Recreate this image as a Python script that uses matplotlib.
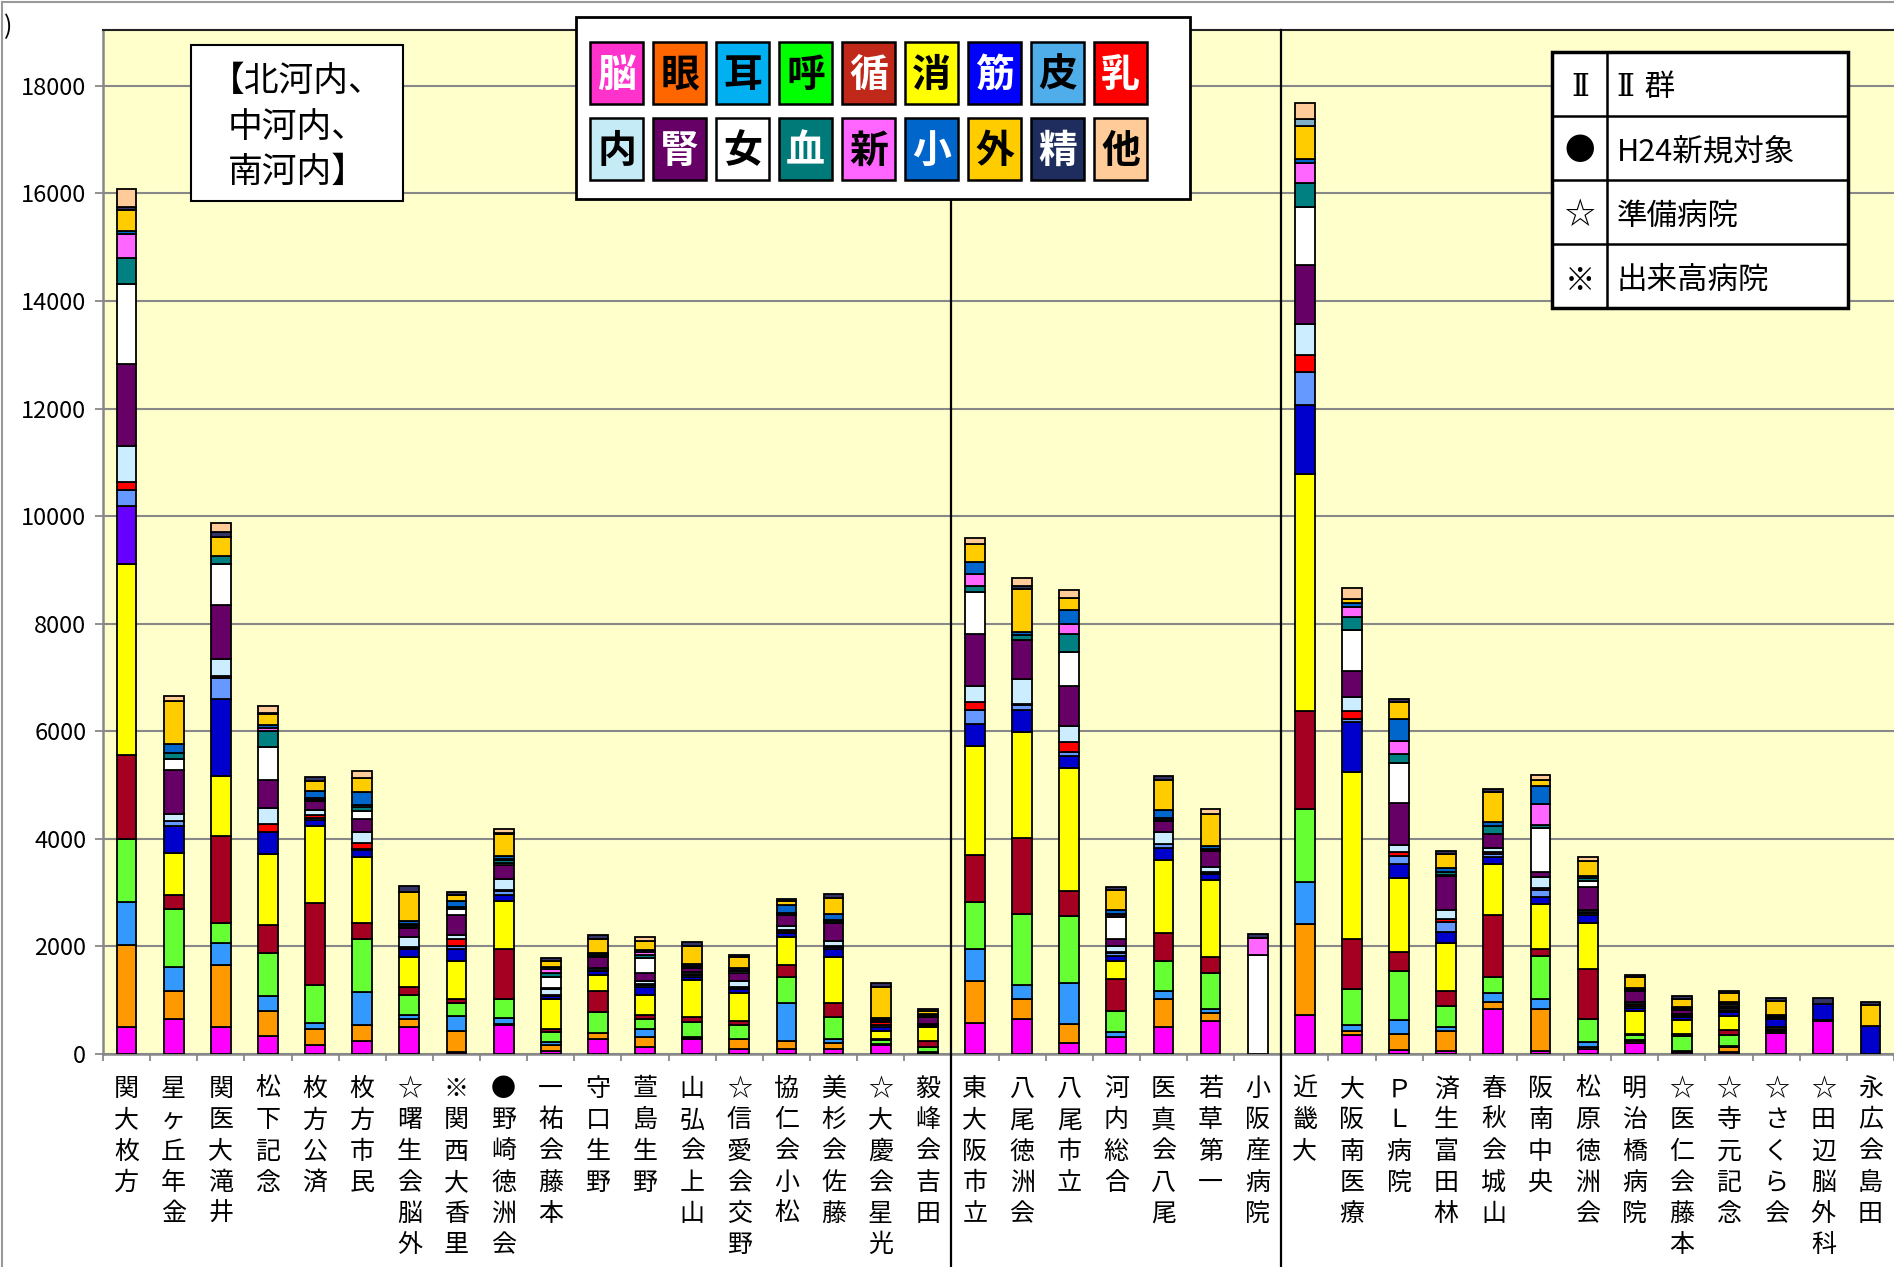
import matplotlib
matplotlib.use("Agg")
import matplotlib.pyplot as plt
from matplotlib.patches import Rectangle
from matplotlib.lines import Line2D
from matplotlib.transforms import blended_transform_factory

plt.rcParams['font.family'] = ['Noto Sans CJK JP', 'DejaVu Sans']

hospitals = ["関大枚方", "星ヶ丘年金", "関医大滝井", "松下記念", "枚方公済", "枚方市民",
             "☆曙生会脳外", "※関西大香里", "●野崎徳洲会", "一祐会藤本", "守口生野",
             "萱島生野", "山弘会上山", "☆信愛会交野", "協仁会小松", "美杉会佐藤",
             "☆大慶会星光", "毅峰会吉田", "東大阪市立", "八尾徳洲会", "八尾市立",
             "河内総合", "医真会八尾", "若草第一", "小阪産病院", "近畿大", "大阪南医療",
             "ＰＬ病院", "済生富田林", "春秋会城山", "阪南中央", "松原徳洲会", "明治橋病院",
             "☆医仁会藤本", "☆寺元記念", "☆さくら会", "☆田辺脳外科", "永広会島田"]

categories = ["脳", "眼", "耳", "呼", "循", "消", "筋", "皮", "乳",
              "内", "腎", "女", "血", "新", "小", "外", "精", "他"]

# values per category, one per hospital
nou = [500, 650, 500, 330, 175, 250, 500, 30, 530, 60, 280, 130, 280, 95, 95, 95, 160, 20,
       580, 645, 205, 320, 495, 610, 0, 725, 345, 80, 60, 840, 50, 95, 205, 30, 40, 390, 605, 0]
me = [1525, 525, 1160, 475, 290, 295, 150, 405, 30, 115, 110, 185, 15, 185, 140, 110, 20, 10,
      770, 370, 345, 0, 520, 155, 0, 1695, 80, 300, 370, 135, 785, 40, 30, 20, 90, 20, 0, 0]
mimi = [810, 450, 400, 265, 110, 600, 80, 265, 110, 45, 0, 150, 15, 0, 715, 75, 0, 0,
        600, 275, 770, 80, 150, 65, 0, 785, 115, 255, 80, 155, 190, 80, 20, 0, 20, 20, 0, 0]
kokyu = [1155, 1070, 370, 805, 700, 990, 360, 250, 355, 185, 400, 185, 290, 265, 475, 410, 80, 100,
         885, 1315, 1255, 400, 560, 680, 0, 1350, 670, 900, 390, 300, 805, 440, 100, 290, 195, 20, 0, 0]
junkan = [1565, 265, 1630, 525, 1530, 310, 165, 80, 935, 60, 375, 70, 95, 75, 225, 260, 20, 105,
          860, 1420, 455, 600, 530, 300, 0, 1820, 920, 370, 270, 1155, 120, 920, 20, 30, 105, 20, 0, 0]
shoka = [3555, 775, 1115, 1320, 1440, 1215, 540, 695, 880, 560, 300, 370, 685, 515, 520, 850, 140, 260,
         2030, 1955, 2290, 325, 1360, 1430, 0, 4405, 3115, 1360, 885, 950, 840, 855, 420, 270, 265, 40, 20, 0]
kin = [1080, 510, 1420, 405, 110, 125, 155, 230, 125, 50, 75, 155, 60, 75, 80, 145, 90, 30,
       405, 420, 215, 95, 220, 100, 0, 1280, 920, 275, 215, 125, 125, 155, 60, 40, 60, 140, 310, 515]
hifu = [300, 80, 390, 0, 40, 35, 20, 60, 60, 20, 15, 45, 30, 25, 25, 40, 20, 20,
        260, 95, 75, 50, 70, 30, 0, 630, 55, 150, 185, 60, 135, 30, 40, 20, 30, 20, 0, 0]
nyu = [140, 0, 45, 155, 50, 100, 20, 125, 30, 10, 15, 15, 20, 20, 25, 20, 60, 0,
       155, 20, 200, 20, 0, 20, 0, 300, 150, 60, 60, 30, 40, 20, 40, 20, 20, 0, 0, 0]
nai = [680, 140, 310, 300, 95, 205, 180, 80, 190, 105, 30, 45, 40, 100, 85, 95, 15, 20,
       295, 465, 285, 120, 225, 80, 0, 590, 275, 135, 155, 75, 195, 45, 30, 30, 30, 20, 0, 0]
jin = [1525, 820, 1000, 520, 155, 240, 180, 360, 260, 20, 200, 155, 60, 155, 205, 330, 20, 125,
       970, 725, 750, 130, 195, 310, 0, 1095, 475, 785, 640, 265, 105, 420, 210, 60, 40, 20, 0, 0]
jo = [1475, 200, 775, 600, 20, 160, 20, 118, 40, 195, 20, 280, 20, 30, 20, 20, 15, 20,
      775, 0, 625, 400, 20, 20, 1840, 1070, 770, 750, 20, 0, 820, 120, 20, 20, 30, 20, 0, 0]
ketsu = [485, 110, 136, 300, 30, 70, 30, 40, 70, 90, 20, 60, 20, 30, 20, 50, 15, 20,
         110, 80, 340, 20, 40, 20, 0, 450, 230, 150, 55, 150, 40, 60, 20, 20, 20, 0, 0, 0]
shin = [450, 0, 0, 70, 20, 35, 20, 0, 20, 60, 0, 60, 0, 0, 0, 0, 0, 0,
        225, 0, 185, 50, 0, 0, 320, 370, 195, 255, 0, 0, 400, 0, 0, 0, 0, 0, 0, 0]
sho = [60, 175, 0, 40, 120, 245, 60, 100, 45, 45, 30, 30, 40, 30, 140, 95, 10, 20,
       225, 70, 260, 60, 160, 40, 0, 75, 70, 400, 80, 80, 335, 30, 20, 20, 30, 0, 0, 0]
geka = [390, 785, 359, 215, 185, 260, 540, 112, 415, 100, 265, 160, 340, 200, 80, 310, 580, 45,
        335, 790, 215, 380, 555, 595, 0, 620, 80, 325, 245, 555, 110, 270, 190, 150, 155, 260, 0, 400]
sei = [60, 0, 93, 20, 80, 0, 95, 56, 20, 65, 80, 0, 65, 50, 30, 75, 75, 50,
       0, 65, 0, 50, 75, 0, 65, 120, 0, 60, 60, 45, 0, 0, 50, 50, 50, 44, 99, 45]
ta = [320, 110, 163, 125, 0, 125, 0, 0, 75, 0, 0, 80, 0, 0, 0, 0, 0, 0,
      115, 140, 160, 0, 0, 105, 0, 300, 205, 0, 0, 0, 95, 80, 0, 0, 0, 0, 0, 0]

series = [nou, me, mimi, kokyu, junkan, shoka, kin, hifu, nyu,
          nai, jin, jo, ketsu, shin, sho, geka, sei, ta]

bar_colors = ["#FF00FF", "#FF9900", "#3399FF", "#66FF33", "#A50021", "#FFFF00",
              "#0000CC", "#6699FF", "#FF0000", "#CCECFF", "#660066", "#FFFFFF",
              "#008080", "#FF66FF", "#0066CC", "#FFCC00", "#333366", "#FFCC99"]
key_colors = ["#FF33CC", "#FF6600", "#00B0F0", "#00FF00", "#C0281A", "#FFFF00",
              "#0000FF", "#4FADEA", "#FF0000", "#C5EBF7", "#660066", "#FFFFFF",
              "#007A78", "#FF66FF", "#0066CC", "#FFCC00", "#1F2D5E", "#FFCC99"]
key_text = ["white", "black", "black", "black", "white", "black", "white", "black", "white",
            "black", "white", "black", "white", "black", "white", "black", "white", "black"]

W, H = 1894, 1267


def fx(px):
    return px / W


def fy(py):
    return 1 - py / H


fig = plt.figure(figsize=(W / 100, H / 100), dpi=100)
ax = fig.add_axes([fx(103), fy(1054), fx(W - 103), (1054 - 30) / H])
ax.set_facecolor("#FFFFCC")

n = len(hospitals)
x = list(range(n))
bottom = [0] * n
for ci, vals in enumerate(series):
    cols = [bar_colors[ci]] * n
    if categories[ci] == "筋":
        cols[0] = "#6600FF"
    if categories[ci] == "精":
        cols[25] = "#80B0C8"
    xs = [i for i in x if vals[i] > 0]
    ax.bar(xs, [vals[i] for i in xs], bottom=[bottom[i] for i in xs], width=0.42,
           color=[cols[i] for i in xs], edgecolor="black", linewidth=1.3, zorder=3)
    bottom = [bottom[i] + vals[i] for i in x]

ax.set_xlim(-0.48, 37.47)
ax.set_ylim(0, 19040)
ax.set_yticks(range(0, 18001, 2000))
ax.set_yticklabels([str(v) for v in range(0, 18001, 2000)], fontsize=17)
ax.grid(axis="y", color="#888888", linewidth=1.5, zorder=1)
ax.tick_params(axis="y", direction="out", length=6, width=1.3, color="#888888", pad=6)

ax.set_xticks(x)
ax.set_xticklabels(["\n".join(h) for h in hospitals], fontsize=18, linespacing=1.26, va="top")
ax.set_xticks([i - 0.5 for i in range(n + 1)], minor=True)
ax.tick_params(axis="x", which="major", length=0, pad=16)
ax.tick_params(axis="x", which="minor", direction="out", length=5, width=1.3, color="#888888")

for s in ["left", "bottom"]:
    ax.spines[s].set_color("#888888")
    ax.spines[s].set_linewidth(1.8)
ax.spines["top"].set_color("#222222")
ax.spines["top"].set_linewidth(1.5)
ax.spines["right"].set_visible(False)

# group separators
tr = blended_transform_factory(ax.transData, fig.transFigure)
for xv in [17.5, 24.5]:
    ax.add_line(Line2D([xv, xv], [0, fy(30)], transform=tr, color="black",
                       linewidth=1.6, clip_on=False, zorder=4))

# figure border
fig.add_artist(Line2D([fx(2), fx(2)], [0, fy(2)], color="#999999", linewidth=1.5))
fig.add_artist(Line2D([fx(2), 1], [fy(2), fy(2)], color="#999999", linewidth=1.5))
fig.text(fx(4), fy(27), ")", fontsize=18, ha="left", va="center")

# area title box
fig.add_artist(Rectangle((fx(191), fy(201)), fx(212), 156 / H, facecolor="white",
                         edgecolor="black", linewidth=1.5, transform=fig.transFigure, zorder=5))
fig.text(fx(297), fy(127), "【北河内、\n中河内、\n南河内】", fontsize=25, ha="center",
         va="center", multialignment="center", linespacing=1.4, zorder=6)

# department colour key
fig.add_artist(Rectangle((fx(576), fy(199)), fx(614), 182 / H, facecolor="white",
                         edgecolor="black", linewidth=2, transform=fig.transFigure, zorder=5))
for k, cat in enumerate(categories):
    row, col = divmod(k, 9)
    left = 590 + col * 63
    top = 42 + row * 76
    fig.add_artist(Rectangle((fx(left), fy(top + 62)), fx(53), 62 / H,
                             facecolor=key_colors[k], edgecolor="black", linewidth=1.8,
                             transform=fig.transFigure, zorder=6))
    fig.text(fx(left + 26.5), fy(top + 33), cat, fontsize=28, fontweight="bold",
             color=key_text[k], ha="center", va="center", zorder=7)

# mark key table
tab_l, tab_r, tab_t = 1552, 1848, 52
row_h = 64
fig.add_artist(Rectangle((fx(tab_l), fy(tab_t + 4 * row_h)), fx(tab_r - tab_l), 4 * row_h / H,
                         facecolor="white", edgecolor="black", linewidth=2.5,
                         transform=fig.transFigure, zorder=5))
fig.add_artist(Line2D([fx(1607), fx(1607)], [fy(tab_t), fy(tab_t + 4 * row_h)],
                      color="black", linewidth=1.8, zorder=6))
marks = ["Ⅱ", "●", "☆", "※"]
mark_names = ["Ⅱ 群", "H24新規対象", "準備病院", "出来高病院"]
for r in range(4):
    yc = tab_t + row_h * (r + 0.5) + 4
    if r > 0:
        fig.add_artist(Line2D([fx(tab_l), fx(tab_r)], [fy(tab_t + r * row_h)] * 2,
                              color="black", linewidth=1.8, zorder=6))
    fam = ["DejaVu Serif", "Noto Sans CJK JP"] if r == 0 else ["Noto Sans CJK JP", "DejaVu Sans"]
    fig.text(fx(1580), fy(yc), marks[r], fontsize=22, ha="center", va="center",
             family=fam, zorder=7)
    fig.text(fx(1617), fy(yc), mark_names[r], fontsize=22, ha="left", va="center",
             family=fam, zorder=7)

fig.savefig("out.png", dpi=100)
